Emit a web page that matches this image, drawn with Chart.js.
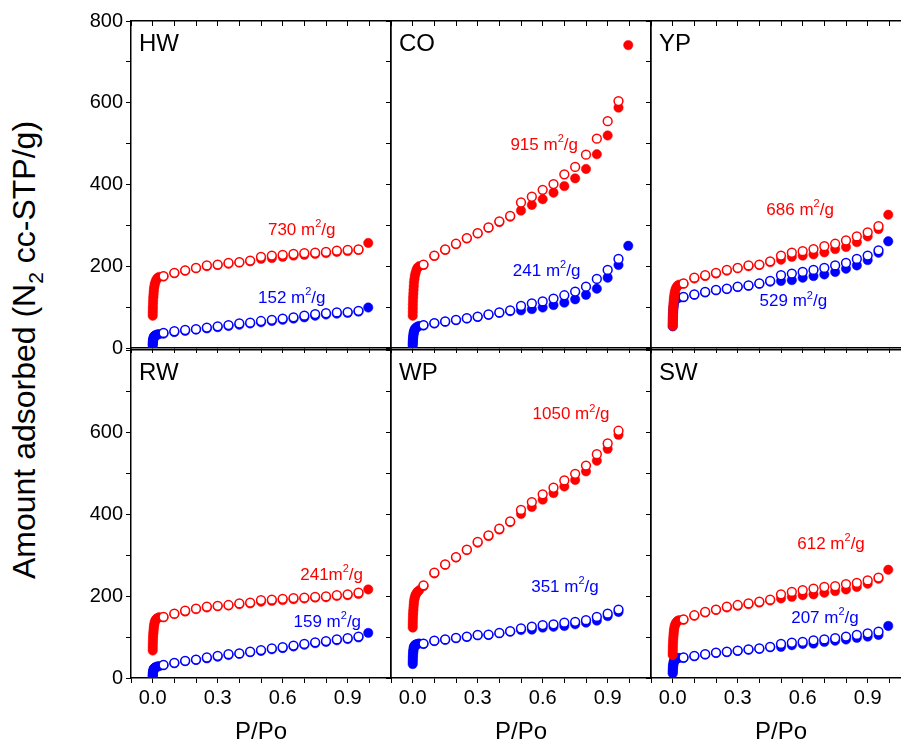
<!DOCTYPE html>
<html>
<head>
<meta charset="utf-8">
<script src="https://cdn.jsdelivr.net/npm/chart.js@4.4.1/dist/chart.umd.min.js"></script>
<style>
  body { margin: 0; background: #fff; overflow: hidden; }
  #wrap { position: relative; width: 901px; height: 744px; overflow: hidden; background: #fff; }
  #wrap canvas { position: absolute; }
  #ytitle {
    position: absolute; left: 27px; top: 350px;
    transform: translate(-50%, -50%) rotate(-90deg);
    white-space: nowrap; font: 32px "Liberation Sans", Arial, sans-serif; color: #000;
  }
  #ytitle sub { font-size: 21px; }
</style>
</head>
<body>
<div id="wrap">
  <div id="ytitle">Amount adsorbed (N<sub>2</sub> cc-STP/g)</div>
</div>
<script>
// pressure points (P/Po)
const P_LOW = [0.0002, 0.0004, 0.0007, 0.001, 0.0015, 0.002, 0.003, 0.004, 0.005, 0.006, 0.008, 0.01, 0.013, 0.017, 0.022, 0.03];
const P_MID = [0.05, 0.10, 0.15, 0.20, 0.25, 0.30, 0.35, 0.40, 0.45, 0.50, 0.55, 0.60, 0.65, 0.70, 0.75, 0.80, 0.85, 0.90, 0.95];
const P_END = 0.995;

const PANEL_NAMES = ["HW", "CO", "YP", "RW", "WP", "SW"];
const RED_LABELS = ["730 m²/g", "915 m²/g", "686 m²/g", "241m²/g", "1050 m²/g", "612 m²/g"];
const BLUE_LABELS = ["152 m²/g", "241 m²/g", "529 m²/g", "159 m²/g", "351 m²/g", "207 m²/g"];

// amount adsorbed, N2 cc-STP/g ; *Ads = adsorption (filled) at P_MID (+ P_END), *Des = desorption (open) at P_MID
const hwRedLow = [79, 86, 93, 100, 108, 116, 124, 131, 138, 145, 151, 157, 162, 167, 171, 174];
const hwRedAds = [175, 183, 189, 195, 200, 203, 206, 209, 212, 218, 220, 223, 226, 228, 230, 232, 235, 237, 240, 257];
const hwRedDes = [176, 184, 190, 196, 202, 204, 208, 210, 214, 223, 226, 228, 230, 232, 233, 235, 238, 240, 241];
const hwBlueLow = [6, 9, 12, 15, 18, 20, 22, 24, 26, 28, 29, 30, 31, 32, 33, 34];
const hwBlueAds = [35, 39, 42, 45, 48, 51, 54, 57, 60, 63, 66, 69, 72, 75, 79, 82, 84, 86, 89, 99];
const hwBlueDes = [37, 41, 44, 46, 50, 53, 56, 60, 62, 66, 69, 72, 75, 79, 83, 85, 87, 88, 91];

const coRedLow = [79, 88, 97, 106, 115, 124, 133, 142, 151, 160, 168, 176, 183, 190, 196, 200];
const coRedAds = [203, 225, 240, 254, 268, 280, 294, 308, 321, 336, 350, 364, 380, 396, 415, 438, 474, 520, 588, 741];
const coRedDes = [204, 226, 241, 255, 269, 281, 295, 310, 323, 356, 370, 387, 401, 425, 443, 473, 512, 555, 604];
const coBlueLow = [6, 10, 14, 18, 22, 26, 30, 34, 37, 40, 43, 46, 48, 50, 52, 54];
const coBlueAds = [55, 60, 64, 68, 72, 76, 81, 86, 90, 92, 95, 99, 105, 111, 119, 130, 145, 172, 203, 250];
const coBlueDes = [56, 61, 65, 69, 73, 77, 82, 87, 92, 103, 109, 114, 121, 129, 138, 150, 169, 191, 218];

const ypRedLow = [54, 62, 70, 78, 86, 94, 102, 110, 117, 124, 131, 137, 143, 148, 152, 155];
const ypRedAds = [157, 170, 176, 182, 189, 195, 200, 203, 210, 216, 223, 226, 229, 234, 242, 247, 259, 273, 291, 326];
const ypRedDes = [158, 172, 178, 184, 191, 196, 202, 204, 212, 226, 233, 237, 242, 249, 255, 263, 273, 283, 298];
const ypBlueLow = [53, 60, 67, 74, 81, 88, 94, 100, 105, 110, 114, 117, 119, 121, 122, 123];
const ypBlueAds = [124, 130, 136, 141, 144, 149, 152, 157, 162, 164, 166, 172, 176, 180, 186, 194, 202, 215, 233, 261];
const ypBlueDes = [125, 131, 137, 142, 145, 150, 153, 158, 164, 178, 182, 186, 191, 196, 202, 208, 218, 226, 239];

const rwRedLow = [67, 74, 81, 88, 95, 102, 109, 115, 121, 127, 132, 137, 141, 144, 146, 148];
const rwRedAds = [148, 156, 162, 168, 172, 175, 177, 180, 182, 186, 188, 190, 192, 194, 196, 197, 200, 202, 205, 216];
const rwRedDes = [149, 157, 164, 169, 174, 176, 178, 182, 184, 190, 191, 193, 195, 196, 198, 199, 202, 204, 208];
const rwBlueLow = [3, 6, 9, 12, 14, 16, 18, 20, 22, 23, 24, 25, 26, 27, 28, 29];
const rwBlueAds = [31, 36, 41, 44, 48, 52, 56, 59, 63, 66, 70, 73, 77, 81, 85, 88, 92, 95, 99, 110];
const rwBlueDes = [32, 37, 42, 45, 50, 54, 58, 60, 64, 68, 72, 75, 79, 83, 87, 90, 94, 97, 101];

const wpRedLow = [123, 130, 137, 144, 151, 158, 165, 172, 179, 186, 192, 197, 202, 206, 210, 214];
const wpRedAds = [224, 255, 276, 294, 312, 330, 346, 362, 380, 400, 417, 435, 451, 467, 483, 504, 530, 559, 593];
const wpRedDes = [226, 257, 277, 295, 313, 332, 348, 364, 382, 410, 429, 448, 464, 482, 498, 518, 546, 572, 603];
const wpBlueLow = [34, 40, 46, 52, 57, 62, 66, 70, 73, 76, 78, 80, 81, 82, 83, 84];
const wpBlueAds = [83, 90, 93, 97, 100, 104, 105, 109, 113, 117, 118, 123, 125, 127, 131, 135, 140, 151, 161];
const wpBlueDes = [84, 91, 94, 98, 101, 105, 106, 110, 114, 121, 125, 129, 131, 135, 137, 141, 149, 157, 167];

const swRedLow = [56, 63, 70, 77, 84, 91, 98, 105, 111, 117, 123, 128, 132, 136, 139, 141];
const swRedAds = [142, 152, 160, 166, 172, 176, 180, 184, 189, 194, 198, 202, 204, 208, 212, 216, 222, 230, 242, 264];
const swRedDes = [143, 153, 161, 167, 174, 178, 182, 186, 191, 204, 210, 214, 218, 222, 224, 229, 232, 238, 245];
const swBlueLow = [11, 15, 19, 23, 27, 30, 33, 36, 39, 41, 43, 45, 46, 47, 48, 49];
const swBlueAds = [49, 53, 57, 61, 63, 66, 69, 71, 75, 76, 80, 83, 84, 88, 91, 94, 98, 101, 105, 127];
const swBlueDes = [50, 54, 58, 62, 64, 67, 70, 72, 76, 83, 86, 88, 92, 94, 97, 101, 105, 109, 113];

// where the surface-area notes sit, in data units (P/Po, amount)
const RED_LABEL_AT = [[0.688, 289], [0.607, 496], [0.588, 338], [0.826, 250], [0.731, 642], [0.731, 326]];
const BLUE_LABEL_AT = [[0.642, 121], [0.618, 188], [0.557, 113], [0.806, 137], [0.703, 222], [0.703, 145]];

const RED = "#ff0000";
const BLUE = "#0000ff";
const FONT = '"Liberation Sans", Arial, sans-serif';

const series = [
  [hwRedLow, hwRedAds, hwRedDes, hwBlueLow, hwBlueAds, hwBlueDes],
  [coRedLow, coRedAds, coRedDes, coBlueLow, coBlueAds, coBlueDes],
  [ypRedLow, ypRedAds, ypRedDes, ypBlueLow, ypBlueAds, ypBlueDes],
  [rwRedLow, rwRedAds, rwRedDes, rwBlueLow, rwBlueAds, rwBlueDes],
  [wpRedLow, wpRedAds, wpRedDes, wpBlueLow, wpBlueAds, wpBlueDes],
  [swRedLow, swRedAds, swRedDes, swBlueLow, swBlueAds, swBlueDes],
];

Chart.defaults.font.family = FONT;
Chart.defaults.color = "#000";

// plot box geometry
const PLOT_W = 260, PLOT_H = 329;
const LEFT0 = 131, TOP0 = 20;
const PAD_L = 50, PAD_T = 14, PAD_R = 4;

function adsPoints(low, ads) {
  const xs = P_LOW.concat(P_MID, [P_END]);
  return low.concat(ads).map((v, i) => ({ x: xs[i], y: v }));
}
function desPoints(des) {
  return des.map((v, i) => ({ x: P_MID[i], y: v }));
}

// "730 m²/g" with a proper raised, smaller 2
function drawArea(ctx, text, cx, cy, size) {
  const [before, after] = text.split("²");
  const supSize = Math.round(size * 0.65);
  ctx.font = size + "px " + FONT;
  const w0 = ctx.measureText(before).width;
  const w1 = ctx.measureText(after).width;
  ctx.font = supSize + "px " + FONT;
  const ws = ctx.measureText("2").width;
  let x = cx - (w0 + ws + w1) / 2;
  ctx.textAlign = "left";
  ctx.textBaseline = "middle";
  ctx.font = size + "px " + FONT;
  ctx.fillText(before, x, cy);
  x += w0;
  ctx.font = supSize + "px " + FONT;
  ctx.fillText("2", x, cy - size * 0.36);
  x += ws;
  ctx.font = size + "px " + FONT;
  ctx.fillText(after, x, cy);
}

const panelText = {
  id: "panelText",
  afterDatasetsDraw(chart, args, opts) {
    const { ctx, chartArea, scales } = chart;
    ctx.save();
    ctx.fillStyle = "#000";
    ctx.font = "24px " + FONT;
    ctx.textAlign = "left";
    ctx.textBaseline = "alphabetic";
    ctx.fillText(opts.name, chartArea.left + 8, chartArea.top + 30);
    ctx.fillStyle = RED;
    drawArea(ctx, opts.redLabel, scales.x.getPixelForValue(opts.redAt[0]), scales.y.getPixelForValue(opts.redAt[1]), 17);
    ctx.fillStyle = BLUE;
    drawArea(ctx, opts.blueLabel, scales.x.getPixelForValue(opts.blueAt[0]), scales.y.getPixelForValue(opts.blueAt[1]), 17);
    ctx.restore();
  }
};

const wrap = document.getElementById("wrap");

PANEL_NAMES.forEach((name, i) => {
  const col = i % 3, row = Math.floor(i / 3);
  const padB = row === 0 ? 14 : 66;
  const [redLow, redAds, redDes, blueLow, blueAds, blueDes] = series[i];

  const canvas = document.createElement("canvas");
  canvas.width = PAD_L + PLOT_W + PAD_R;
  canvas.height = PAD_T + PLOT_H + padB;
  canvas.style.left = (LEFT0 + PLOT_W * col - PAD_L) + "px";
  canvas.style.top = (TOP0 + PLOT_H * row - PAD_T) + "px";
  wrap.appendChild(canvas);

  const tickGrid = { drawOnChartArea: false, drawTicks: true, tickLength: 5, color: "#000", lineWidth: 1 };
  const frame = { display: true, color: "#000", width: 1.5 };

  new Chart(canvas, {
    type: "scatter",
    data: {
      datasets: [
        { data: desPoints(redDes), pointRadius: 4.4, pointBorderWidth: 1.5, pointBackgroundColor: "#fff", pointBorderColor: RED },
        { data: adsPoints(redLow, redAds), pointRadius: 4.7, pointBorderWidth: 0.5, pointBackgroundColor: RED, pointBorderColor: RED },
        { data: desPoints(blueDes), pointRadius: 4.4, pointBorderWidth: 1.5, pointBackgroundColor: "#fff", pointBorderColor: BLUE },
        { data: adsPoints(blueLow, blueAds), pointRadius: 4.7, pointBorderWidth: 0.5, pointBackgroundColor: BLUE, pointBorderColor: BLUE },
      ]
    },
    options: {
      responsive: false,
      animation: false,
      events: [],
      layout: { autoPadding: false, padding: { left: 0, right: PAD_R, top: PAD_T, bottom: 0 } },
      plugins: {
        legend: { display: false },
        tooltip: { enabled: false },
        panelText: {
          name: name,
          redLabel: RED_LABELS[i], blueLabel: BLUE_LABELS[i],
          redAt: RED_LABEL_AT[i], blueAt: BLUE_LABEL_AT[i]
        }
      },
      scales: {
        x: {
          type: "linear", position: "bottom", min: -0.1, max: 1.1,
          grid: tickGrid, border: frame,
          ticks: {
            stepSize: 0.1, maxTicksLimit: 100, autoSkip: false, maxRotation: 0, padding: 3,
            font: { size: 20 },
            callback: (v) => {
              const n = Math.round(v * 10);
              return row === 1 && n >= 0 && n % 3 === 0 ? (n / 10).toFixed(1) : "";
            }
          },
          title: { display: row === 1, text: "P/Po", font: { size: 24, lineHeight: 1 }, padding: 0 },
          afterFit: (s) => { s.height = padB; }
        },
        x2: {
          type: "linear", position: "top", min: -0.1, max: 1.1, display: true,
          grid: Object.assign({}, tickGrid, { tickLength: row === 0 ? -5 : 0, drawTicks: row === 0 }),
          border: frame,
          ticks: { stepSize: 0.1, maxTicksLimit: 100, autoSkip: false, callback: () => "" },
          afterFit: (s) => { s.height = 0; }
        },
        y: {
          type: "linear", position: "left", min: 0, max: 800,
          grid: tickGrid, border: frame,
          ticks: {
            stepSize: 100, maxTicksLimit: 100, autoSkip: false, padding: 3,
            font: { size: 20 },
            callback: (v) => {
              if (col !== 0 || v % 200 !== 0) return "";
              if (row === 1 && v === 800) return "";
              return String(v);
            }
          },
          afterFit: (s) => { s.width = PAD_L; }
        },
        y2: {
          type: "linear", position: "right", min: 0, max: 800, display: true,
          grid: Object.assign({}, tickGrid, { drawTicks: false }),
          border: frame,
          ticks: { stepSize: 100, callback: () => "" },
          afterFit: (s) => { s.width = 0; }
        }
      }
    },
    plugins: [panelText]
  });
});
</script>
</body>
</html>
